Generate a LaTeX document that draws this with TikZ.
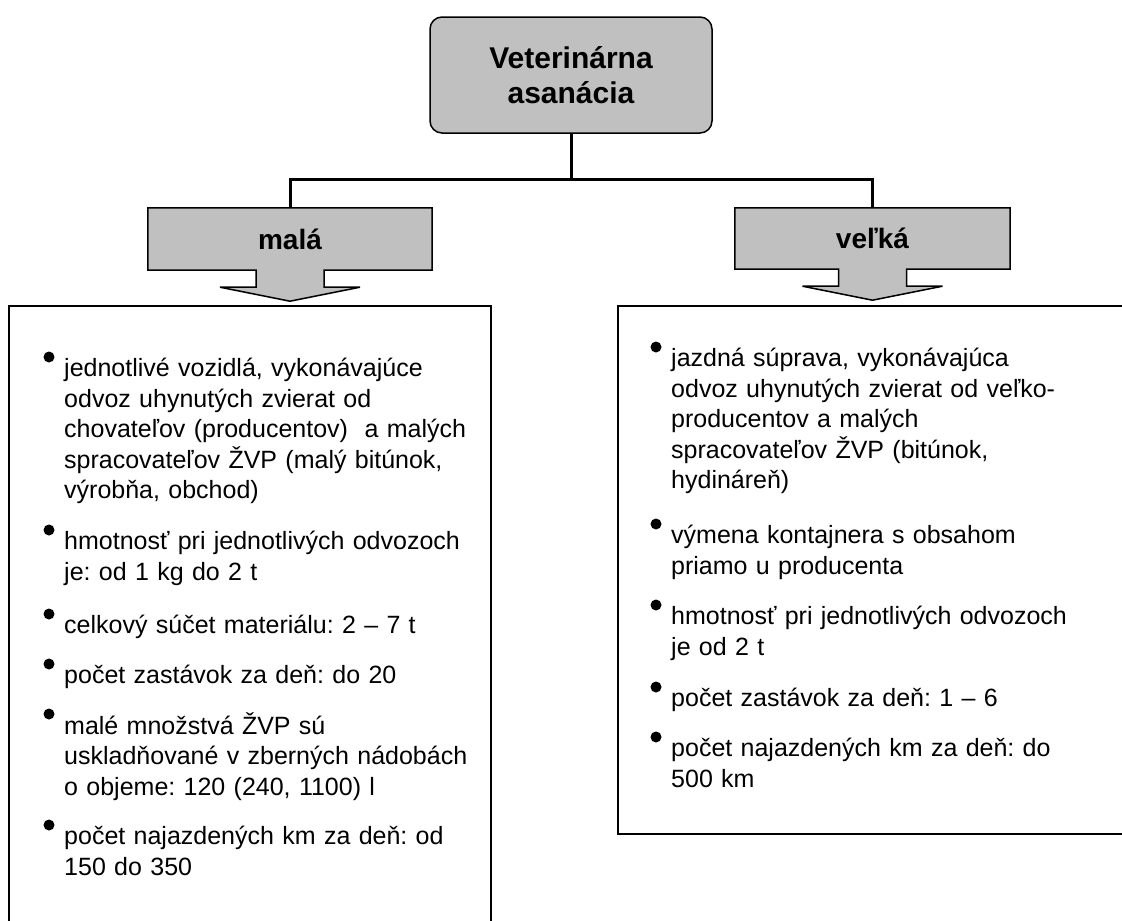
\documentclass[tikz,border=0pt]{standalone}
\usepackage{fontspec}
\setmainfont{Liberation Sans}
\frenchspacing
\usepackage{tikz}
\usetikzlibrary{calc,positioning,backgrounds}
\definecolor{boxgray}{HTML}{C0C0C0}
\newcommand{\arrowbox}[1]{%
  \begin{pgfonlayer}{background}
  \filldraw[callout] (#1.south west) -- (#1.north west) -- (#1.north east) -- (#1.south east)
    -- ($(#1.south)+(34,0)$) -- ++(0,17) -- ++(36,0) -- ($(#1.south)+(0,31)$)
    -- ($(#1.south)+(-70,17)$) -- ++(36,0) -- ++(0,-17) -- cycle;
  \end{pgfonlayer}}
\newcommand{\bul}[1]{\fill ($(#1.north west)+(-15,2)$) circle (5.5pt);}

\begin{document}
\begin{tikzpicture}
[x=1pt,y=-1pt,
 conn/.style={line width=3pt},
 head/.style={draw,line width=1.5pt,fill=boxgray,rounded corners=12pt,align=center,
   font=\fontsize{30}{35}\selectfont\bfseries,minimum width=282,minimum height=116},
 cat/.style={font=\fontsize{28}{33}\selectfont\bfseries},
 callout/.style={draw,fill=boxgray,line width=1.5pt,line join=miter},
 frame/.style={draw,line width=1.5pt,anchor=north west,inner sep=0pt},
 item/.style={anchor=north west,inner sep=0pt,align=left,
   font=\fontsize{25}{30.5}\selectfont}]
\useasboundingbox (0,0) rectangle (1122,921);

% top of the tree
\node[head] (vet) at (571,75) {Veterinárna\\asanácia};
\node[cat,minimum width=284,minimum height=62] (mala) at (290,239) {malá};
\node[cat,minimum width=275,minimum height=61] (velka) at (872.5,238.5) {veľká};
\arrowbox{mala}
\arrowbox{velka}
\draw[conn] (vet.south) -- ++(0,46) coordinate (fork);
\draw[conn] (fork) -| (mala.north);
\draw[conn] (fork) -| (velka.north);

% frames
\node[frame,minimum width=482,minimum height=625] (malybox) at (8,305) {};
\node[frame,minimum width=513,minimum height=528] (velkybox) at (617,305) {};

% left list
\node[item,text width=430] (m1) at (64,355) {\strut jednotlivé vozidlá, vykonávajúce\\odvoz uhynutých zvierat od\\chovateľov (producentov)\ \ a malých\\spracovateľov ŽVP (malý bitúnok,\\výrobňa, obchod)};
\node[item,text width=430] (m2) at (64,528) {\strut hmotnosť pri jednotlivých odvozoch\\je: od 1 kg do 2 t};
\node[item,text width=430] (m3) at (64,612) {\strut celkový súčet materiálu: 2 – 7 t};
\node[item,text width=430] (m4) at (64,662) {\strut počet zastávok za deň: do 20};
\node[item,text width=430] (m5) at (64,712) {\strut malé množstvá ŽVP sú\\uskladňované v zberných nádobách\\o objeme: 120 (240, 1100) l};
\node[item,text width=430] (m6) at (64,823) {\strut počet najazdených km za deň: od\\150 do 350};
\bul{m1}\bul{m2}\bul{m3}\bul{m4}\bul{m5}\bul{m6}

% right list
\node[item,text width=450] (v1) at (671,345) {\strut jazdná súprava, vykonávajúca\\odvoz uhynutých zvierat od veľko-\\producentov a malých\\spracovateľov ŽVP (bitúnok,\\hydináreň)};
\node[item,text width=450] (v2) at (671,522) {\strut výmena kontajnera s obsahom\\priamo u producenta};
\node[item,text width=450] (v3) at (671,603) {\strut hmotnosť pri jednotlivých odvozoch\\je od 2 t};
\node[item,text width=450] (v4) at (671,685) {\strut počet zastávok za deň: 1 – 6};
\node[item,text width=450] (v5) at (671,735) {\strut počet najazdených km za deň: do\\500 km};
\bul{v1}\bul{v2}\bul{v3}\bul{v4}\bul{v5}
\end{tikzpicture}
\end{document}
